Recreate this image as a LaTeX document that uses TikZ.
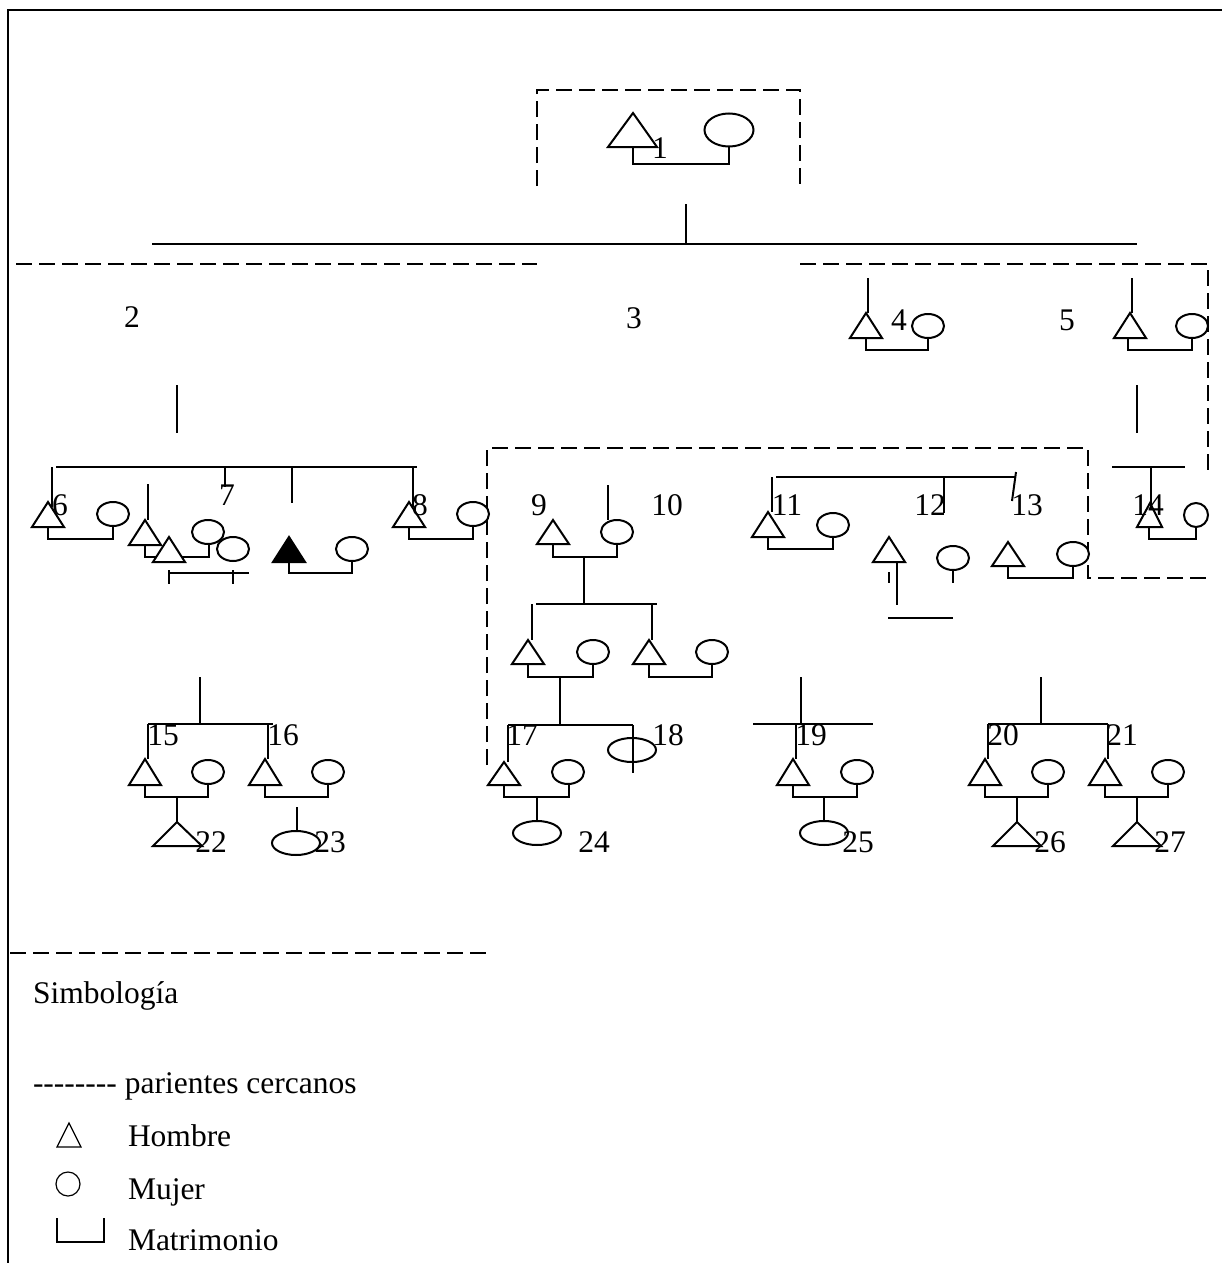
\documentclass[tikz,border=0pt]{standalone}
\usepackage{fontspec}
\setmainfont{Liberation Serif}
\begin{document}
\begin{tikzpicture}[x=1pt,y=-1pt,line width=2pt,
    kin/.style={dash pattern=on 16pt off 7pt},
    pers/.style={fill=white},
    num/.style={inner sep=0pt,font=\fontsize{31.5}{37}\selectfont},
    txt/.style={inner sep=0pt,anchor=base west,font=\fontsize{31.5}{37}\selectfont}]
\useasboundingbox (0,0) rectangle (1222,1263);

\draw (8,1263) -- (8,10) -- (1222,10);

% generacion 1
\draw[kin] (537,186) -- (537,90) -- (800,90) -- (800,186);
\draw[pers] (633,113) -- (657,147) -- (608,147) -- cycle;
\draw[pers] (729,130) ellipse [x radius=24.5pt, y radius=16.5pt];
\draw (633,147) -- (633,164) -- (729,164) -- (729,147);
\draw (686,204) -- (686,244);
\draw (152,244) -- (1137,244);

\draw[kin] (16,264) -- (537,264);
\draw[kin] (800,264) -- (1208,264) -- (1208,475);
\draw[kin] (487,765) -- (487,448) -- (1088,448) -- (1088,578) -- (1208,578);
\draw[kin] (10,953) -- (487,953);

% generacion 2
\draw (868,278) -- (868,313);
\draw[pers] (866,313) -- (882,338) -- (850,338) -- cycle;
\draw[pers] (928,326) ellipse [x radius=16pt, y radius=12pt];
\draw (866,338) -- (866,350) -- (928,350) -- (928,338);

\draw (1132,278) -- (1132,313);
\draw[pers] (1130,313) -- (1146,338) -- (1114,338) -- cycle;
\draw[pers] (1192,326) ellipse [x radius=16pt, y radius=12pt];
\draw (1128,338) -- (1128,350) -- (1192,350) -- (1192,338);

\draw (1137,385) -- (1137,433);
\draw (1112,467) -- (1185,467);
\draw[pers] (1150,503) -- (1162,527) -- (1137,527) -- cycle;
\draw (1151,467) -- (1151,510);
\draw[pers] (1196,515) ellipse [x radius=12pt, y radius=12pt];
\draw (1149,527) -- (1149,539) -- (1196,539) -- (1196,527);

% generacion 3, familia 2
\draw (177,385) -- (177,433);
\draw (56,467) -- (417,467);
\draw[pers] (48,502) -- (64,527) -- (32,527) -- cycle;
\draw (52,467) -- (52,507);
\draw[pers] (113,514) ellipse [x radius=16pt, y radius=12pt];
\draw (48,527) -- (48,539) -- (113,539) -- (113,526);
\draw (225,467) -- (225,487);
\draw (292,467) -- (292,503);

\draw[pers] (409,502) -- (425,527) -- (393,527) -- cycle;
\draw (413,467) -- (413,507);
\draw[pers] (473,514) ellipse [x radius=16pt, y radius=12pt];
\draw (409,527) -- (409,539) -- (473,539) -- (473,526);

\draw (148,484) -- (148,520);
\draw[pers] (145,520) -- (161,545) -- (129,545) -- cycle;
\draw[pers] (208,532) ellipse [x radius=16pt, y radius=12pt];
\draw (145,545) -- (145,557) -- (209,557) -- (209,544);
\draw[pers] (169,537) -- (185,562) -- (153,562) -- cycle;
\draw[pers] (233,549) ellipse [x radius=16pt, y radius=12pt];
\draw (169,573) -- (249,573);
\draw (169,570) -- (169,584);
\draw (233,570) -- (233,584);

\draw[fill=black] (289,537) -- (305,562) -- (273,562) -- cycle;
\draw[pers] (352,549) ellipse [x radius=16pt, y radius=12pt];
\draw (289,562) -- (289,573) -- (352,573) -- (352,561);

% familia 3
\draw (608,485) -- (608,520);
\draw[pers] (553,520) -- (569,544) -- (537,544) -- cycle;
\draw[pers] (617,532) ellipse [x radius=16pt, y radius=12pt];
\draw (553,544) -- (553,557) -- (617,557) -- (617,544);
\draw (584,557) -- (584,604);
\draw (536,604) -- (657,604);
\draw (532,604) -- (532,640);
\draw (652,604) -- (652,640);

\draw[pers] (528,640) -- (544,664) -- (512,664) -- cycle;
\draw[pers] (593,652) ellipse [x radius=16pt, y radius=12pt];
\draw (528,664) -- (528,677) -- (593,677) -- (593,664);
\draw[pers] (649,640) -- (665,664) -- (633,664) -- cycle;
\draw[pers] (712,652) ellipse [x radius=16pt, y radius=12pt];
\draw (649,664) -- (649,677) -- (712,677) -- (712,664);

\draw (560,677) -- (560,725);
\draw (508,725) -- (633,725);
\draw (508,725) -- (508,762);
\draw[pers] (632,750) ellipse [x radius=24pt, y radius=12pt];
\draw (633,725) -- (633,773);
\draw[pers] (504,762) -- (520,785) -- (488,785) -- cycle;
\draw[pers] (568,772) ellipse [x radius=16pt, y radius=12pt];
\draw (504,785) -- (504,797) -- (569,797) -- (569,784);
\draw (537,797) -- (537,821);
\draw[pers] (537,833) ellipse [x radius=24pt, y radius=12pt];

% familias 4 y 5
\draw (776,477) -- (1015,477);
\draw (772,477) -- (772,512);
\draw (944,477) -- (944,513);
\draw (1016,472) -- (1012,501);
\draw[pers] (768,512) -- (784,537) -- (752,537) -- cycle;
\draw[pers] (833,525) ellipse [x radius=16pt, y radius=12pt];
\draw (768,537) -- (768,549) -- (833,549) -- (833,537);

\draw[pers] (889,537) -- (905,562) -- (873,562) -- cycle;
\draw (897,562) -- (897,605);
\draw (889,572) -- (889,583);
\draw[pers] (953,558) ellipse [x radius=16pt, y radius=12pt];
\draw (953,570) -- (953,583);
\draw (888,618) -- (953,618);

\draw[pers] (1008,542) -- (1024,566) -- (992,566) -- cycle;
\draw[pers] (1073,554) ellipse [x radius=16pt, y radius=12pt];
\draw (1008,566) -- (1008,578) -- (1073,578) -- (1073,566);

% generacion 4
\draw (200,677) -- (200,724);
\draw (148,724) -- (273,724);
\draw (148,724) -- (148,759);
\draw (268,724) -- (268,759);
\draw[pers] (145,759) -- (161,785) -- (129,785) -- cycle;
\draw[pers] (208,772) ellipse [x radius=16pt, y radius=12pt];
\draw (145,785) -- (145,797) -- (208,797) -- (208,784);
\draw[pers] (265,759) -- (281,785) -- (249,785) -- cycle;
\draw[pers] (328,772) ellipse [x radius=16pt, y radius=12pt];
\draw (265,785) -- (265,797) -- (328,797) -- (328,784);
\draw (177,797) -- (177,822);
\draw[pers] (177,822) -- (202,846) -- (153,846) -- cycle;
\draw (297,807) -- (297,831);
\draw[pers] (296,843) ellipse [x radius=24pt, y radius=12pt];

\draw (801,677) -- (801,724);
\draw (753,724) -- (873,724);
\draw (796,724) -- (796,759);
\draw[pers] (793,759) -- (809,785) -- (777,785) -- cycle;
\draw[pers] (857,772) ellipse [x radius=16pt, y radius=12pt];
\draw (793,785) -- (793,797) -- (857,797) -- (857,784);
\draw (824,797) -- (824,821);
\draw[pers] (824,833) ellipse [x radius=24pt, y radius=12pt];

\draw (1041,677) -- (1041,724);
\draw (988,724) -- (1108,724);
\draw (988,724) -- (988,759);
\draw (1108,724) -- (1108,759);
\draw[pers] (985,759) -- (1001,785) -- (969,785) -- cycle;
\draw[pers] (1048,772) ellipse [x radius=16pt, y radius=12pt];
\draw (985,785) -- (985,797) -- (1048,797) -- (1048,784);
\draw[pers] (1105,759) -- (1121,785) -- (1089,785) -- cycle;
\draw[pers] (1168,772) ellipse [x radius=16pt, y radius=12pt];
\draw (1105,785) -- (1105,797) -- (1168,797) -- (1168,784);
\draw (1017,797) -- (1017,822);
\draw[pers] (1017,822) -- (1041,846) -- (993,846) -- cycle;
\draw (1137,797) -- (1137,822);
\draw[pers] (1137,822) -- (1161,846) -- (1113,846) -- cycle;

% numeros
\node[num] (n1) at (660,148) {1};
\node[num] (n2) at (132,317) {2};
\node[num] (n3) at (634,318) {3};
\node[num] (n4) at (899,320) {4};
\node[num] (n5) at (1067,320) {5};
\node[num] (n6) at (60,505) {6};
\node[num] (n7) at (227,495) {7};
\node[num] (n8) at (420,505) {8};
\node[num] (n9) at (539,505) {9};
\node[num] (n10) at (667,505) {10};
\node[num] (n11) at (787,505) {11};
\node[num] (n12) at (930,505) {12};
\node[num] (n13) at (1027,505) {13};
\node[num] (n14) at (1148,505) {14};
\node[num] (n15) at (163,735) {15};
\node[num] (n16) at (283,735) {16};
\node[num] (n17) at (522,735) {17};
\node[num] (n18) at (668,735) {18};
\node[num] (n19) at (811,735) {19};
\node[num] (n20) at (1003,735) {20};
\node[num] (n21) at (1122,735) {21};
\node[num] (n22) at (211,842) {22};
\node[num] (n23) at (330,842) {23};
\node[num] (n24) at (594,842) {24};
\node[num] (n25) at (858,842) {25};
\node[num] (n26) at (1050,842) {26};
\node[num] (n27) at (1170,842) {27};

% simbologia
\node[txt] (simb) at (32,1003) {Simbología};
\node[txt] (parc) at (32,1093) {-{}-{}-{}-{}-{}-{}-{}- parientes cercanos};
\draw[line width=1.2pt] (69,1123) -- (81,1147) -- (57,1147) -- cycle;
\node[txt] (homb) at (127,1146) {Hombre};
\draw[line width=1.2pt] (68,1184) circle [radius=12pt];
\node[txt] (muj) at (127,1199) {Mujer};
\draw[line width=1.2pt] (57,1218) -- (57,1242) -- (104,1242) -- (104,1218);
\node[txt] (matr) at (127,1250) {Matrimonio};
\end{tikzpicture}
\end{document}
